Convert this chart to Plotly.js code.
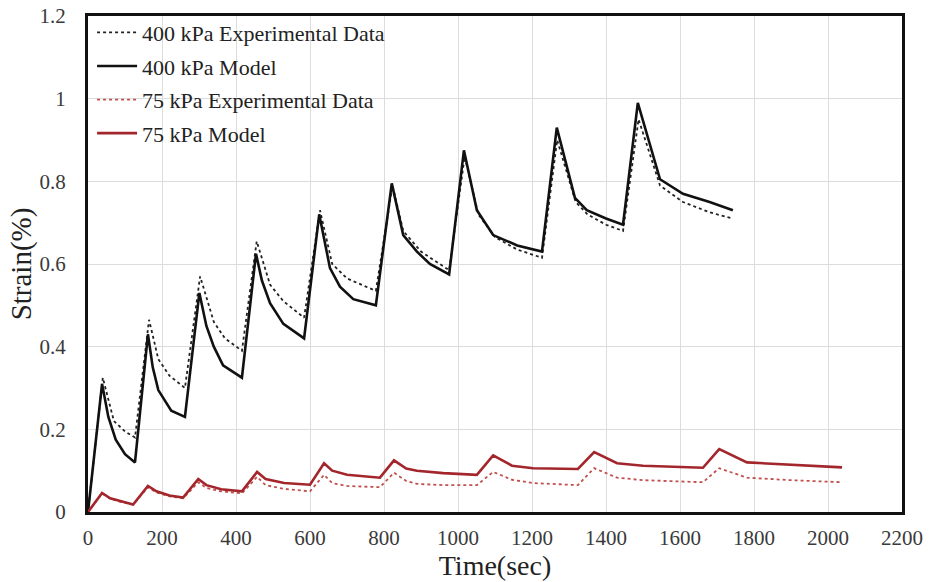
<!DOCTYPE html>
<html>
<head>
<meta charset="utf-8">
<script src="https://cdn.plot.ly/plotly-3.0.1.min.js"></script>
<style>html,body{margin:0;padding:0;background:#fff;}#chart{width:930px;height:582px;}</style>
</head>
<body>
<div id="chart"></div>
<script>
// ---- Data ----
const time400Model = [0, 38, 55, 75, 100, 127, 162, 175, 190, 225, 262, 301, 320, 340, 365, 416, 454, 470, 492, 528, 584, 625, 654, 681, 717, 778, 821, 852, 889, 924, 976, 1016, 1051, 1095, 1160, 1227, 1267, 1316, 1348, 1400, 1446, 1486, 1546, 1608, 1680, 1743];
const strain400Model = [0, 0.31, 0.23, 0.175, 0.14, 0.12, 0.43, 0.35, 0.295, 0.245, 0.23, 0.53, 0.45, 0.40, 0.355, 0.325, 0.625, 0.56, 0.505, 0.455, 0.42, 0.72, 0.59, 0.545, 0.515, 0.50, 0.795, 0.67, 0.63, 0.60, 0.575, 0.875, 0.73, 0.67, 0.645, 0.63, 0.93, 0.76, 0.73, 0.71, 0.695, 0.99, 0.805, 0.77, 0.75, 0.73];

const time400Exp = [0, 40, 70, 100, 127, 165, 190, 220, 262, 303, 340, 370, 416, 456, 492, 528, 584, 627, 660, 700, 778, 823, 852, 900, 976, 1018, 1055, 1100, 1160, 1227, 1268, 1318, 1350, 1400, 1446, 1488, 1546, 1608, 1680, 1743];
const strain400Exp = [0, 0.325, 0.22, 0.195, 0.18, 0.465, 0.37, 0.33, 0.30, 0.57, 0.46, 0.42, 0.39, 0.655, 0.55, 0.51, 0.47, 0.73, 0.60, 0.565, 0.535, 0.79, 0.68, 0.63, 0.585, 0.86, 0.72, 0.665, 0.635, 0.615, 0.90, 0.75, 0.72, 0.695, 0.68, 0.95, 0.79, 0.75, 0.725, 0.71];

const time75 = [0, 38, 60, 90, 122, 162, 185, 220, 257, 298, 320, 360, 416, 457, 480, 530, 600, 638, 660, 700, 789, 827, 860, 889, 960, 1051, 1095, 1146, 1203, 1324, 1368, 1430, 1500, 1662, 1706, 1781, 1900, 2038];
const strain75Model = [0, 0.046, 0.033, 0.025, 0.018, 0.063, 0.05, 0.04, 0.035, 0.08, 0.065, 0.055, 0.05, 0.097, 0.08, 0.07, 0.066, 0.118, 0.10, 0.09, 0.083, 0.125, 0.105, 0.10, 0.094, 0.09, 0.137, 0.112, 0.106, 0.104, 0.145, 0.118, 0.112, 0.107, 0.152, 0.12, 0.115, 0.108];
const strain75Exp = [0, 0.045, 0.032, 0.024, 0.018, 0.06, 0.047, 0.038, 0.033, 0.072, 0.058, 0.05, 0.045, 0.085, 0.065, 0.056, 0.05, 0.09, 0.07, 0.063, 0.06, 0.095, 0.075, 0.068, 0.065, 0.065, 0.097, 0.078, 0.07, 0.065, 0.106, 0.083, 0.077, 0.072, 0.106, 0.083, 0.077, 0.072];

const seriesNames = ["400 kPa Experimental Data", "400 kPa Model", "75 kPa Experimental Data", "75 kPa Model"];
const xTicks = [0, 200, 400, 600, 800, 1000, 1200, 1400, 1600, 1800, 2000, 2200];
const yTicks = [0, 0.2, 0.4, 0.6, 0.8, 1, 1.2];
const yTickText = ["0", "0.2", "0.4", "0.6", "0.8", "1", "1.2"];

const traces = [
  {x: time400Exp, y: strain400Exp, name: seriesNames[0], legendgroup: "a", mode: "lines",
   line: {color: "#222222", width: 1.8, dash: "dot"}},
  {x: time400Model, y: strain400Model, name: seriesNames[1], legendgroup: "b", mode: "lines",
   line: {color: "#111111", width: 2.6}},
  {x: time75, y: strain75Exp, name: seriesNames[2], legendgroup: "c", mode: "lines",
   line: {color: "#c0504d", width: 1.8, dash: "dot"}},
  {x: time75, y: strain75Model, name: seriesNames[3], legendgroup: "d", mode: "lines",
   line: {color: "#a3262c", width: 2.6}}
];

const layout = {
  width: 930, height: 582,
  margin: {l: 88, r: 28, t: 14, b: 70},
  paper_bgcolor: "#ffffff", plot_bgcolor: "#ffffff",
  font: {family: "Liberation Serif, Times New Roman, serif", color: "#333333", size: 21},
  showlegend: true,
  legend: {x: 0.005, y: 1.009, xanchor: "left", yanchor: "top", bgcolor: "rgba(255,255,255,0)",
           font: {family: "Liberation Serif, serif", size: 22, color: "#222222"},
           tracegroupgap: 2, itemwidth: 40},
  xaxis: {range: [0, 2200], tickvals: xTicks, ticktext: xTicks.map(String),
          showgrid: true, gridcolor: "#dcdcdc", gridwidth: 1, zeroline: false,
          showline: true, linecolor: "#111111", linewidth: 3, mirror: true,
          ticks: "", ticklabelstandoff: 5,
          tickfont: {size: 21, color: "#3a3a3a"},
          title: {text: "Time(sec)", font: {size: 28, color: "#222222"}, standoff: 0}},
  yaxis: {range: [0, 1.2], tickvals: yTicks, ticktext: yTickText,
          showgrid: true, gridcolor: "#dcdcdc", gridwidth: 1, zeroline: false,
          showline: true, linecolor: "#111111", linewidth: 3, mirror: true,
          ticks: "", ticklabelstandoff: 15,
          tickfont: {size: 21, color: "#3a3a3a"},
          title: {text: "Strain(%)", font: {size: 29, color: "#222222"}, standoff: 0}}
};

Plotly.newPlot("chart", traces, layout, {displayModeBar: false, staticPlot: true});
</script>
</body>
</html>
